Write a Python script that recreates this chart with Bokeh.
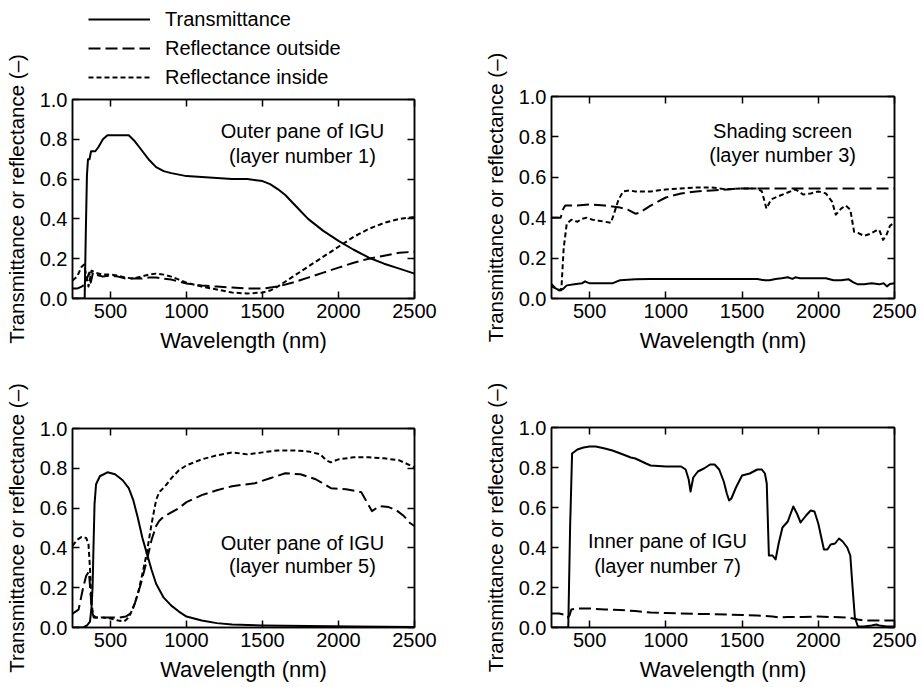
import numpy as np
from bokeh.plotting import figure
from bokeh.models import (Range1d, FixedTicker, LinearAxis, Label, Legend,
                          LegendItem, PrintfTickFormatter, GridBox)
from bokeh.embed import file_html
from bokeh.resources import INLINE

FONT = "Liberation Sans"

# ---------------- data ----------------
x_ticks = [500, 1000, 1500, 2000, 2500]
y_ticks = [0.0, 0.2, 0.4, 0.6, 0.8, 1.0]
legend_labels = ["Transmittance", "Reflectance outside", "Reflectance inside"]

# Panel 1: Outer pane of IGU (layer number 1)
wl_T1 = [250, 330, 338, 345, 352, 362, 372, 400, 420, 450, 480, 550, 620, 660, 700, 750, 800, 850,
         900, 1000, 1100, 1200, 1300, 1400, 1500, 1550, 1600, 1650, 1700, 1750, 1800, 1850, 1900,
         1950, 2000, 2100, 2200, 2300, 2400, 2500]
T1 = [0.0, 0.0, 0.35, 0.62, 0.70, 0.70, 0.74, 0.74, 0.76, 0.80, 0.82, 0.82, 0.82, 0.79, 0.75, 0.70,
      0.66, 0.64, 0.63, 0.615, 0.61, 0.605, 0.60, 0.60, 0.59, 0.575, 0.55, 0.52, 0.48, 0.44, 0.40,
      0.37, 0.34, 0.315, 0.29, 0.245, 0.205, 0.175, 0.15, 0.125]
wl_Ro1 = [250, 280, 310, 330, 345, 360, 370, 385, 400, 450, 500, 550, 600, 650, 700, 750, 800, 850,
          900, 950, 1000, 1100, 1200, 1300, 1400, 1500, 1600, 1700, 1800, 1900, 2000, 2100, 2200,
          2300, 2400, 2500]
Ro1 = [0.05, 0.05, 0.06, 0.07, 0.10, 0.13, 0.08, 0.13, 0.12, 0.11, 0.115, 0.11, 0.10, 0.10, 0.10,
       0.105, 0.105, 0.10, 0.095, 0.085, 0.075, 0.065, 0.06, 0.055, 0.05, 0.05, 0.06, 0.08, 0.105,
       0.13, 0.155, 0.18, 0.20, 0.215, 0.23, 0.235]
wl_Ri1 = [250, 280, 310, 325, 340, 355, 375, 400, 450, 500, 550, 600, 650, 700, 750, 800, 850, 900,
          950, 1000, 1100, 1200, 1300, 1400, 1500, 1550, 1600, 1700, 1800, 1900, 2000, 2100, 2200,
          2300, 2400, 2500]
Ri1 = [0.09, 0.11, 0.16, 0.17, 0.12, 0.06, 0.14, 0.13, 0.12, 0.12, 0.115, 0.105, 0.10, 0.11, 0.12,
       0.125, 0.12, 0.11, 0.095, 0.08, 0.06, 0.045, 0.03, 0.025, 0.03, 0.04, 0.06, 0.11, 0.16, 0.21,
       0.26, 0.31, 0.35, 0.38, 0.40, 0.41]

# Panel 2: Shading screen (layer number 3)
wl_T2 = [250, 290, 310, 330, 350, 400, 450, 470, 500, 550, 600, 650, 680, 700, 800, 900, 1000, 1200,
         1400, 1600, 1650, 1680, 1720, 1760, 1800, 1830, 1850, 1880, 1920, 2000, 2050, 2100, 2150,
         2200, 2230, 2260, 2300, 2350, 2400, 2430, 2450, 2470, 2500]
T2 = [0.06, 0.045, 0.04, 0.05, 0.065, 0.07, 0.075, 0.085, 0.075, 0.075, 0.075, 0.075, 0.085, 0.09,
      0.095, 0.097, 0.097, 0.097, 0.097, 0.097, 0.09, 0.09, 0.097, 0.10, 0.105, 0.097, 0.105, 0.10,
      0.10, 0.10, 0.10, 0.09, 0.09, 0.095, 0.08, 0.07, 0.07, 0.075, 0.07, 0.075, 0.06, 0.072, 0.075]
wl_Ro2 = [250, 310, 325, 340, 400, 500, 600, 650, 700, 750, 800, 830, 900, 1000, 1100, 1200, 1300,
          1400, 1500, 1600, 2000, 2500]
Ro2 = [0.40, 0.40, 0.44, 0.46, 0.46, 0.465, 0.46, 0.455, 0.45, 0.44, 0.42, 0.425, 0.46, 0.50, 0.52,
       0.53, 0.535, 0.54, 0.545, 0.545, 0.545, 0.545]
wl_Ri2 = [250, 280, 300, 315, 330, 350, 380, 420, 450, 480, 520, 560, 600, 640, 660, 690, 720, 760,
          800, 900, 1000, 1100, 1200, 1300, 1400, 1500, 1600, 1630, 1660, 1690, 1750, 1800, 1850,
          1900, 1950, 2000, 2050, 2090, 2115, 2150, 2180, 2210, 2235, 2260, 2300, 2340, 2375, 2400,
          2425, 2445, 2470, 2500]
Ri2 = [0.07, 0.05, 0.04, 0.05, 0.25, 0.37, 0.39, 0.38, 0.395, 0.40, 0.39, 0.385, 0.38, 0.375, 0.42,
       0.49, 0.53, 0.535, 0.53, 0.53, 0.54, 0.545, 0.55, 0.55, 0.54, 0.545, 0.545, 0.53, 0.445,
       0.49, 0.51, 0.525, 0.54, 0.515, 0.52, 0.53, 0.52, 0.48, 0.415, 0.445, 0.46, 0.44, 0.33,
       0.325, 0.31, 0.32, 0.335, 0.34, 0.29, 0.31, 0.36, 0.375]

# Panel 3: Outer pane of IGU (layer number 5)
wl_T3 = [250, 320, 345, 365, 375, 382, 388, 395, 405, 430, 480, 530, 580, 620, 650, 680, 710, 740,
         770, 800, 850, 900, 950, 1000, 1100, 1200, 1300, 1500, 1800, 2100, 2500]
T3 = [0.0, 0.0, 0.01, 0.03, 0.10, 0.20, 0.40, 0.62, 0.72, 0.76, 0.78, 0.77, 0.74, 0.70, 0.64, 0.55,
      0.45, 0.37, 0.29, 0.22, 0.15, 0.11, 0.08, 0.055, 0.035, 0.022, 0.015, 0.01, 0.007, 0.005, 0.003]
wl_Ro3 = [250, 290, 320, 340, 358, 368, 378, 390, 420, 500, 560, 600, 630, 660, 700, 740, 770, 800,
          820, 840, 880, 950, 1000, 1100, 1200, 1300, 1450, 1550, 1650, 1750, 1850, 1950, 2050,
          2150, 2180, 2220, 2270, 2330, 2380, 2430, 2470, 2500]
Ro3 = [0.07, 0.09, 0.20, 0.26, 0.28, 0.18, 0.08, 0.05, 0.05, 0.05, 0.05, 0.055, 0.07, 0.12, 0.22,
       0.34, 0.44, 0.51, 0.535, 0.55, 0.57, 0.60, 0.63, 0.665, 0.69, 0.71, 0.725, 0.75, 0.775, 0.77,
       0.745, 0.70, 0.695, 0.68, 0.64, 0.585, 0.61, 0.605, 0.59, 0.56, 0.525, 0.51]
wl_Ri3 = [250, 280, 310, 340, 355, 365, 375, 385, 400, 450, 500, 550, 590, 620, 650, 680, 710, 740,
          770, 800, 820, 840, 870, 900, 950, 1000, 1100, 1200, 1300, 1400, 1500, 1600, 1700, 1800,
          1880, 1920, 1950, 2000, 2100, 2200, 2300, 2400, 2500]
Ri3 = [0.41, 0.44, 0.455, 0.45, 0.42, 0.30, 0.12, 0.07, 0.05, 0.05, 0.045, 0.035, 0.03, 0.05, 0.10,
       0.17, 0.27, 0.38, 0.52, 0.64, 0.68, 0.695, 0.72, 0.75, 0.79, 0.815, 0.845, 0.865, 0.88,
       0.87, 0.88, 0.89, 0.89, 0.885, 0.87, 0.84, 0.83, 0.845, 0.855, 0.855, 0.85, 0.84, 0.805]

# Panel 4: Inner pane of IGU (layer number 7)
wl_T4 = [250, 360, 372, 385, 420, 460, 500, 540, 600, 650, 720, 770, 800, 870, 900, 1000, 1100, 1130,
         1150, 1162, 1180, 1210, 1250, 1290, 1320, 1350, 1380, 1400, 1415, 1430, 1460, 1500, 1550,
         1600, 1630, 1650, 1662, 1676, 1700, 1720, 1740, 1765, 1800, 1836, 1860, 1884, 1920, 1950,
         1975, 2000, 2037, 2060, 2081, 2110, 2136, 2160, 2190, 2210, 2225, 2240, 2260, 2300, 2350,
         2380, 2400, 2450, 2500]
T4 = [0.0, 0.0, 0.50, 0.87, 0.89, 0.90, 0.905, 0.905, 0.895, 0.885, 0.865, 0.85, 0.845, 0.82, 0.81,
      0.805, 0.805, 0.79, 0.74, 0.68, 0.75, 0.78, 0.795, 0.815, 0.815, 0.79, 0.73, 0.67, 0.635,
      0.645, 0.70, 0.76, 0.77, 0.79, 0.79, 0.77, 0.72, 0.36, 0.36, 0.34, 0.42, 0.50, 0.53, 0.605,
      0.57, 0.525, 0.56, 0.585, 0.58, 0.52, 0.39, 0.39, 0.415, 0.42, 0.445, 0.43, 0.40, 0.36, 0.20,
      0.05, 0.005, 0.005, 0.01, 0.015, 0.01, 0.005, 0.005]
wl_Ro4 = [250, 300, 330, 355, 368, 380, 420, 500, 600, 700, 800, 900, 1000, 1100, 1200, 1300, 1400,
          1500, 1600, 1700, 1750, 1800, 1900, 2000, 2100, 2200, 2260, 2300, 2400, 2500]
Ro4 = [0.07, 0.07, 0.065, 0.05, 0.06, 0.09, 0.095, 0.095, 0.09, 0.088, 0.082, 0.075, 0.072, 0.07,
       0.068, 0.067, 0.065, 0.063, 0.06, 0.055, 0.05, 0.053, 0.053, 0.055, 0.052, 0.05, 0.04, 0.035,
       0.035, 0.035]

notes = {
    1: ("Outer pane of IGU", "(layer number 1)", 1763, 0.842, 0.714),
    3: ("Shading screen", "(layer number 3)", 1766, 0.828, 0.708),
    5: ("Outer pane of IGU", "(layer number 5)", 1763, 0.427, 0.309),
    7: ("Inner pane of IGU", "(layer number 7)", 1011, 0.432, 0.309),
}

DASH = {"T": "solid", "Ro": "12 5", "Ri": "5 3"}


def make_panel(width, height, mb, series, note):
    p = figure(width=width, height=height, x_range=Range1d(250, 2500), y_range=Range1d(0, 1.0),
               output_backend="svg", toolbar_location=None,
               min_border_left=mb[0], min_border_right=mb[1],
               min_border_top=mb[2], min_border_bottom=mb[3])
    p.frame_align = False
    p.background_fill_color = "white"
    p.border_fill_color = "white"
    p.outline_line_color = "black"
    p.outline_line_width = 1.5
    p.xgrid.grid_line_color = None
    p.ygrid.grid_line_color = None

    for ax in p.xaxis:
        ax.ticker = FixedTicker(ticks=x_ticks)
        ax.axis_label = "Wavelength (nm)"
        ax.axis_label_text_font_size = "22px"
        ax.axis_label_standoff = 7
        ax.major_label_standoff = 5
    for ax in p.yaxis:
        ax.ticker = FixedTicker(ticks=y_ticks)
        ax.formatter = PrintfTickFormatter(format="%.1f")
        ax.axis_label = "Transmittance or reflectance (\u2013)"
        ax.axis_label_text_font_size = "20.5px"
        ax.axis_label_standoff = 9
        ax.major_label_standoff = 5
    for ax in list(p.xaxis) + list(p.yaxis):
        ax.axis_label_text_font = FONT
        ax.axis_label_text_font_style = "normal"
        ax.axis_label_text_color = "black"
        ax.major_label_text_font = FONT
        ax.major_label_text_font_size = "20px"
        ax.major_label_text_color = "black"
        ax.major_tick_in = 7
        ax.major_tick_out = 0
        ax.minor_tick_in = 0
        ax.minor_tick_out = 0
        ax.major_tick_line_color = "black"
        ax.major_tick_line_width = 1.5
        ax.axis_line_color = "black"
        ax.axis_line_width = 1.5

    # tick marks only (no labels) on the top and right sides of the frame
    for side, tk in (("above", x_ticks), ("right", y_ticks)):
        ax = LinearAxis(ticker=FixedTicker(ticks=tk), major_label_text_color=None,
                        major_label_text_font_size="1px",
                        major_label_standoff=0, major_tick_in=7, major_tick_out=0,
                        minor_tick_in=0, minor_tick_out=0, major_tick_line_width=1.5,
                        axis_line_width=1.5)
        p.add_layout(ax, side)

    rends = []
    for kind, xs, ys in series:
        r = p.line(xs, ys, line_color="black", line_width=2, line_dash=DASH[kind],
                   line_join="round")
        rends.append(r)

    t1, t2, nx, ny1, ny2 = note
    for txt, ny in ((t1, ny1), (t2, ny2)):
        p.add_layout(Label(x=nx, y=ny, text=txt, text_align="center", text_baseline="middle",
                           text_font=FONT, text_font_size="20px", text_color="black"))
    return p, rends


TOP_H = 370
BOT_H = 687 - TOP_H
LEFT_W = 479

p1, r1 = make_panel(LEFT_W, TOP_H, (72, 65, 99, TOP_H - 298),
                    [("T", wl_T1, T1), ("Ro", wl_Ro1, Ro1), ("Ri", wl_Ri1, Ri1)], notes[1])
p2, r2 = make_panel(923 - LEFT_W, TOP_H, (72, 29, 96, TOP_H - 298),
                    [("T", wl_T2, T2), ("Ro", wl_Ro2, Ro2), ("Ri", wl_Ri2, Ri2)], notes[3])
p3, r3 = make_panel(LEFT_W, BOT_H, (72, 65, 428 - TOP_H, 687 - 627),
                    [("T", wl_T3, T3), ("Ro", wl_Ro3, Ro3), ("Ri", wl_Ri3, Ri3)], notes[5])
p4, r4 = make_panel(923 - LEFT_W, BOT_H, (72, 29, 427 - TOP_H, 687 - 627),
                    [("T", wl_T4, T4), ("Ro", wl_Ro4, Ro4)], notes[7])

# transparent legend figure, same size as the top-left cell, laid over it
LEG_ROW = 24
LEG_GAP = 5
leg_fig = figure(width=LEFT_W, height=TOP_H, x_axis_type=None, y_axis_type=None,
                 x_range=Range1d(0, 1), y_range=Range1d(0, 1),
                 output_backend="svg", toolbar_location=None,
                 min_border_left=0, min_border_right=0, min_border_top=0, min_border_bottom=0)
leg_fig.frame_align = False
leg_fig.background_fill_color = None
leg_fig.background_fill_alpha = 0
leg_fig.border_fill_color = None
leg_fig.border_fill_alpha = 0
leg_fig.outline_line_color = None
leg_fig.xgrid.visible = False
leg_fig.ygrid.visible = False
# one undrawable (NaN) point per style, only so that the legend has a glyph to sample
leg_rends = [leg_fig.line(np.array([np.nan]), np.array([np.nan]), line_color="black",
                          line_width=2, line_dash=DASH[k])
             for k in ("T", "Ro", "Ri")]
leg_h = 3 * LEG_ROW + 2 * LEG_GAP
legend = Legend(items=[LegendItem(label=lab, renderers=[r], index=0)
                       for lab, r in zip(legend_labels, leg_rends)],
                location=(88, TOP_H - 7 - leg_h), orientation="vertical",
                glyph_width=62, glyph_height=LEG_ROW, label_height=LEG_ROW, label_standoff=15,
                spacing=LEG_GAP, padding=0, margin=0, border_line_color=None,
                background_fill_alpha=0,
                label_text_font=FONT, label_text_font_size="20px", label_text_color="black")
leg_fig.add_layout(legend, "center")

layout = GridBox(children=[(p1, 0, 0), (p2, 0, 1), (p3, 1, 0), (p4, 1, 1), (leg_fig, 0, 0)],
                 spacing=0)

with open("out.html", "w") as f:
    f.write(file_html(layout, INLINE))
